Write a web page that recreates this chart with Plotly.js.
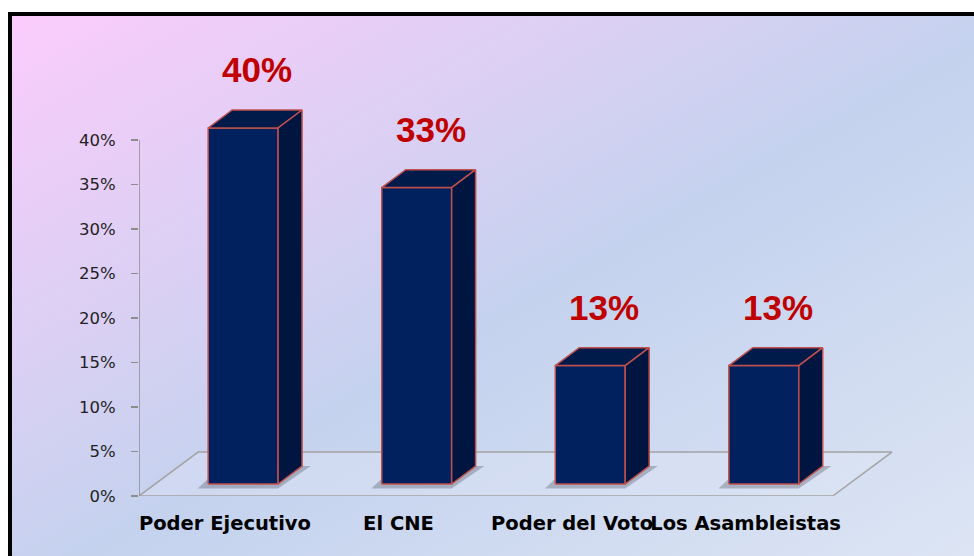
<!DOCTYPE html>
<html>
<head>
<meta charset="utf-8">
<script src="https://cdn.plot.ly/plotly-3.0.1.min.js"></script>
<style>
    html, body { margin: 0; padding: 0; width: 974px; height: 556px; overflow: hidden; background: #fff; }
    #frame {
        position: absolute; left: 8px; top: 12px; width: 980px; height: 560px;
        border-left: 4px solid #000; border-top: 4px solid #000;
        background: linear-gradient(to bottom right, #fbccfc 0%, #c4d2ee 52%, #dee6f4 100%);
    }
    #chart-area { position: absolute; left: 0; top: 0; width: 974px; height: 556px; }
</style>
</head>
<body>
<div id="frame"></div>
<div id="chart-area"></div>
<script>
'use strict';

const categories = ["Poder Ejecutivo", "El CNE", "Poder del Voto", "Los Asambleistas"];
const shares = [40, 33.3, 13.3, 13.3];
const share_labels = ["40%", "33%", "13%", "13%"];
const y_tick_values = [0, 5, 10, 15, 20, 25, 30, 35, 40];
const y_tick_labels = ["0%", "5%", "10%", "15%", "20%", "25%", "30%", "35%", "40%"];

// fake 3d geometry, in axis units
const bar_width = 0.403;
const bar_base = 1.35;
const depth_x = 0.138;
const depth_y = 2.02;
const floor_x0 = -0.6;
const floor_x1 = 3.397;
const floor_dx = 0.341;
const floor_dy = 4.94;

const front_color = "#00205e";
const top_color = "#001a4a";
const side_color = "#001540";
const edge_color = "#c0504d";

function polygon(xs, ys, fill, line_color, line_width) {
    return {
        x: xs.concat([xs[0]]),
        y: ys.concat([ys[0]]),
        type: "scatter",
        mode: "lines",
        fill: "toself",
        fillcolor: fill,
        line: { color: line_color, width: line_width },
        hoverinfo: "skip",
        showlegend: false,
    };
}

function build_traces() {
    let data = [];
    data.push(polygon(
        [floor_x0, floor_x1, floor_x1 + floor_dx, floor_x0 + floor_dx],
        [0, 0, floor_dy, floor_dy],
        "rgba(225,232,246,0.35)", "#a3a3a3", 1.5));

    categories.forEach((_, i) => {
        let l = i - bar_width / 2;
        let r = i + bar_width / 2;
        let b = bar_base;
        // soft shadow on the floor
        data.push(polygon(
            [l - 0.06, r, r + depth_x + 0.05, l + depth_x - 0.06],
            [b - 0.5, b - 0.5, b + depth_y, b + depth_y],
            "rgba(60,62,80,0.3)", "rgba(0,0,0,0)", 0));
    });

    categories.forEach((_, i) => {
        let l = i - bar_width / 2;
        let r = i + bar_width / 2;
        let b = bar_base;
        let t = bar_base + shares[i];
        data.push(polygon([l, r, r, l], [b, b, t, t], front_color, edge_color, 1.5));
        data.push(polygon([l, r, r + depth_x, l + depth_x], [t, t, t + depth_y, t + depth_y], top_color, edge_color, 1.5));
        data.push(polygon([r, r + depth_x, r + depth_x, r], [b, b + depth_y, t + depth_y, t], side_color, edge_color, 1.5));
    });
    return data;
}

function render() {
    let annotations = categories.map((_, i) => ({
        x: i,
        y: bar_base + shares[i],
        xref: "x",
        yref: "y",
        text: share_labels[i],
        showarrow: false,
        xshift: 14,
        yshift: 58,
        font: { family: "Liberation Sans, Arial, sans-serif", size: 35, color: "#c00000", weight: "bold" },
    }));

    let layout = {
        width: 974,
        height: 556,
        margin: { l: 139, r: 80, t: 51, b: 60 },
        paper_bgcolor: "rgba(0,0,0,0)",
        plot_bgcolor: "rgba(0,0,0,0)",
        showlegend: false,
        xaxis: {
            range: [-0.6, 3.75],
            showgrid: false,
            zeroline: false,
            showline: false,
            ticks: "",
            tickangle: 0,
            tickvals: categories.map((_, i) => i - 0.105),
            ticktext: categories,
            ticklabelstandoff: 13,
            tickfont: { family: "DejaVu Sans", size: 19.5, color: "#000", weight: "bold" },
        },
        yaxis: {
            range: [0, 50],
            showgrid: false,
            zeroline: false,
            showline: false,
            ticks: "outside",
            ticklen: 7,
            tickwidth: 1.5,
            tickcolor: "#8c8c8c",
            tickvals: y_tick_values,
            ticktext: y_tick_labels,
            ticklabelstandoff: 12,
            tickfont: { family: "DejaVu Sans", size: 16.5, color: "#1f1f1f" },
        },
        shapes: [
            {
                type: "line",
                xref: "x",
                yref: "y",
                x0: -0.6,
                x1: -0.6,
                y0: 0,
                y1: y_tick_values[y_tick_values.length - 1],
                line: { color: "#8c8c8c", width: 1.5 },
            }
        ],
        annotations: annotations,
    };
    Plotly.newPlot("chart-area", build_traces(), layout, { displayModeBar: false, staticPlot: true });
}

render();
</script>
</body>
</html>
